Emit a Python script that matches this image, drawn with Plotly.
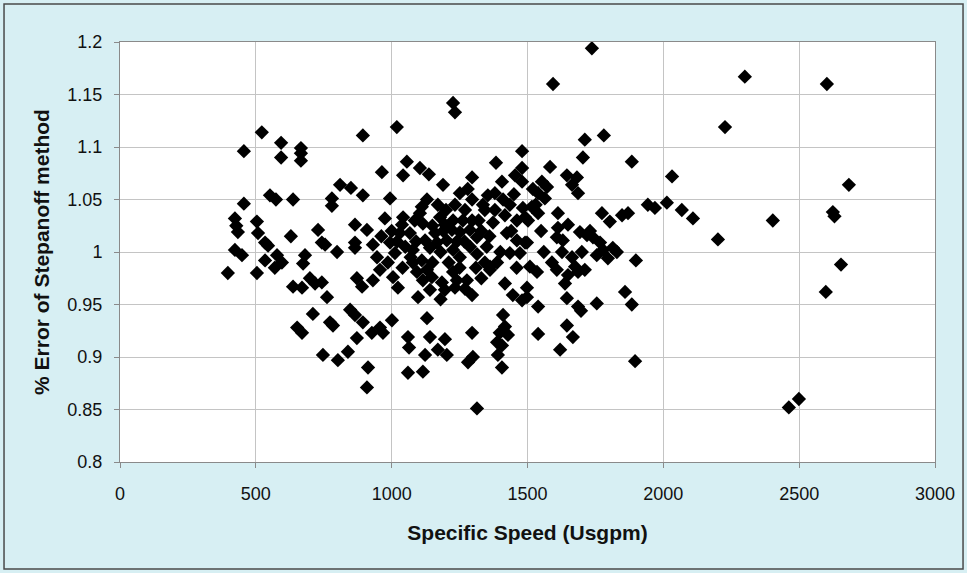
import plotly.graph_objects as go

# Specific speed (US gpm units) of each pump in the sample
specific_speed = [
    397, 423, 428, 434, 423, 449, 456, 456, 504, 508, 504, 522, 534, 545, 534,
    552, 574, 578, 596, 570, 593, 593, 629, 637, 637, 670, 652, 670, 666, 666,
    666, 681, 674, 699, 718, 710, 729, 743, 755, 743, 762, 747, 773, 784, 780,
    780, 799, 802, 810, 839, 847, 850, 865, 865, 865, 865, 872, 891, 894, 872,
    894, 894, 909, 913, 909, 927,
    931, 946, 957, 931, 957, 968, 964, 975, 994, 994, 1012, 986, 1005, 1001,
    1019, 1023, 1030, 1038, 1042, 1042, 1056, 1067, 1078, 1078, 1060, 1064,
    1060, 1093, 1097, 1104, 1104, 1111, 1111, 1115, 1115, 1115, 1123, 1123,
    1130, 1130, 1137, 1141, 1141, 1141, 1148, 1167, 1170, 1170, 1178, 1185,
    1189, 1196, 1196, 1196, 1203, 1203, 1222, 1226, 1226, 1226, 1226, 1233,
    1233, 1233, 1240, 1251, 1251, 1251, 1277, 1281, 1288, 1288, 1296, 1296,
    1296, 1296, 1296, 1299, 1314, 1314, 1314, 1336, 1343, 1343, 1354, 1362,
    1362, 1373, 1380, 1384, 1388, 1388, 1391, 1398, 1406, 1406, 1406, 1410,
    1417, 1417, 1417, 1424, 1428, 1435, 1435, 1446, 1454, 1461, 1461, 1472,
    1480, 1480, 1480, 1480, 1483, 1491, 1491, 1498,
    1502, 1498, 1509, 1535, 1498, 1516, 1539, 1539, 1553, 1564, 1572, 1583,
    1594, 1612, 1612, 1608, 1630, 1649, 1627, 1664, 1675, 1649, 1608, 1638,
    1686, 1711, 1645, 1682, 1664, 1686, 1693, 1719, 1741, 1767, 1778, 1755,
    1704, 1711, 1737, 1781, 1774, 1803, 1814, 1829, 1796, 1848, 1870, 1884,
    1899, 1859, 1645, 1755, 1884, 1539, 1686, 1539, 1697, 1645, 1667, 1620,
    1896, 1943, 1969, 2013, 2032, 2068, 2109, 2201, 2227, 2300, 2403, 2462,
    2499, 2602, 2598, 2624, 2630, 2654, 2683,
    1150, 1160, 1180, 1210, 1262, 1270, 1320, 1330, 1350, 1268, 1200, 1085,
    1090, 1050, 1020, 1000, 962, 1130, 1250, 1270, 1180, 1330, 1400, 1440,
    1380, 1410, 1530, 1550, 1560, 1590, 1700, 1730, 1520, 1460, 1450, 1040,
    1150, 1190, 1280, 1070, 1240, 1360, 1310,
]

# Ratio of the Stepanoff prediction to the measured value
stepanoff_error = [
    0.980, 1.032, 1.025, 1.019, 1.002, 0.997, 1.096, 1.046, 1.029, 1.018, 0.980,
    1.114, 1.009, 1.006, 0.992, 1.054, 1.050, 0.997, 0.990, 0.985, 1.104, 1.090,
    1.015, 1.050, 0.967, 0.966, 0.928, 0.923, 1.099, 1.094, 1.087, 0.997, 0.989,
    0.975, 0.970, 0.941, 1.021, 1.009, 1.007, 0.971, 0.957, 0.902, 0.933, 0.930,
    1.051, 1.044, 1.000, 0.897, 1.064, 0.905, 0.945, 1.061, 1.026, 1.009, 1.004,
    0.940, 0.975, 0.967, 0.933, 0.918, 1.111, 1.054, 1.021, 0.890, 0.871, 0.923,
    1.007, 0.995, 0.983, 0.973, 0.928, 0.923, 1.076, 1.032, 1.051, 1.009, 0.999,
    0.990, 0.976, 0.935, 1.119, 0.966, 1.018, 1.026, 1.033, 1.073, 1.086, 1.018,
    1.002, 0.990, 0.919, 0.909, 0.885, 0.981, 0.957, 1.080, 1.037, 1.043, 0.992,
    1.027, 0.973, 0.886, 1.011, 0.902, 0.983, 0.937, 1.074, 1.004, 0.964, 0.919,
    0.976, 1.009, 1.045, 0.907, 1.033, 0.971, 1.064, 1.026, 0.964, 0.917, 1.011,
    0.902, 1.021, 1.030, 1.002, 0.981, 1.142, 1.133, 1.045, 0.966, 0.973, 1.056,
    1.019, 0.995, 0.973, 0.895, 1.021, 1.005, 1.071, 1.050, 1.030, 0.959, 0.923,
    0.900, 1.014, 0.998, 0.851, 1.045, 1.040, 0.990, 1.054, 0.986, 0.983, 1.028,
    1.056, 1.085, 0.990, 0.914, 0.902, 0.923, 1.067, 0.911, 0.890, 0.940, 1.035,
    0.970, 0.929, 1.018, 0.921, 1.045, 0.999, 0.959, 1.073, 1.030, 1.011, 0.999,
    1.096, 1.067, 1.080, 0.954, 1.042, 1.033, 1.009, 0.957,
    1.030, 1.009, 0.986, 0.981, 0.966, 1.043, 1.037, 1.056, 1.067, 1.051, 1.062,
    1.081, 1.160, 1.037, 1.023, 1.014, 1.011, 1.026, 1.000, 0.995, 0.986, 0.978,
    0.983, 0.970, 0.981, 0.983, 1.073, 1.071, 1.064, 1.056, 1.019, 1.016, 1.014,
    1.009, 1.002, 0.997, 1.090, 1.107, 1.194, 1.111, 1.037, 1.029, 1.004, 1.000,
    0.994, 1.035, 1.037, 1.086, 0.992, 0.962, 0.956, 0.951, 0.950, 0.948, 0.948,
    0.922, 0.944, 0.930, 0.919, 0.907, 0.896, 1.045, 1.042, 1.047, 1.072, 1.040,
    1.032, 1.012, 1.119, 1.167, 1.030, 0.852, 0.860, 1.160, 0.962, 1.038, 1.034,
    0.988, 1.064,
    1.025, 1.018, 1.000, 0.990, 1.030, 1.040, 1.030, 1.020, 1.005, 1.010, 1.040,
    1.030, 1.010, 1.005, 1.010, 1.020, 1.015, 1.050, 0.985, 0.965, 0.955, 0.975,
    1.000, 1.020, 1.040, 1.050, 1.045, 1.020, 1.000, 0.990, 1.000, 1.020, 1.060,
    0.985, 1.055, 0.985, 0.990, 1.020, 1.060, 0.995, 1.010, 1.015, 0.985,
]

x_tick_values = [0, 500, 1000, 1500, 2000, 2500, 3000]
x_tick_labels = ["0", "500", "1000", "1500", "2000", "2500", "3000"]
y_tick_values = [0.8, 0.85, 0.9, 0.95, 1.0, 1.05, 1.1, 1.15, 1.2]
y_tick_labels = ["0.8", "0.85", "0.9", "0.95", "1", "1.05", "1.1", "1.15", "1.2"]

FONT = "Liberation Sans, Arial, sans-serif"

fig = go.Figure(
    go.Scatter(
        x=specific_speed,
        y=stepanoff_error,
        mode="markers",
        marker=dict(symbol="diamond", size=11, color="black"),
        hoverinfo="x+y",
    )
)

axis_common = dict(
    showgrid=True,
    gridcolor="#c4c4c4",
    gridwidth=1,
    showline=True,
    linecolor="#8a8a8a",
    linewidth=1,
    mirror=True,
    ticks="outside",
    ticklen=5,
    tickcolor="#8a8a8a",
    zeroline=False,
    tickfont=dict(family=FONT, size=18, color="#111"),
)

fig.update_xaxes(
    range=[0, 3000],
    tickvals=x_tick_values,
    ticktext=x_tick_labels,
    ticklabelstandoff=10,
    title=dict(
        text="Specific Speed (Usgpm)",
        font=dict(family=FONT, size=21, color="#111", weight="bold"),
        standoff=22,
    ),
    **axis_common,
)
fig.update_yaxes(
    range=[0.8, 1.2],
    tickvals=y_tick_values,
    ticktext=y_tick_labels,
    ticklabelstandoff=8,
    title=dict(
        text="% Error of Stepanoff method",
        font=dict(family=FONT, size=21, color="#111", weight="bold"),
        standoff=12,
    ),
    **axis_common,
)

# thin dark frame around the whole chart
fig.add_shape(
    type="rect", xref="paper", yref="paper",
    x0=-0.1423, x1=1.0344, y0=-0.2548, y1=1.0905,
    line=dict(color="#4a4a4a", width=1.5), fillcolor="rgba(0,0,0,0)",
    layer="below",
)

fig.update_layout(
    width=967,
    height=573,
    margin=dict(l=120, r=32, t=42, b=111),
    paper_bgcolor="#d7eff3",
    plot_bgcolor="white",
    showlegend=False,
)

fig.write_html("out.html")
